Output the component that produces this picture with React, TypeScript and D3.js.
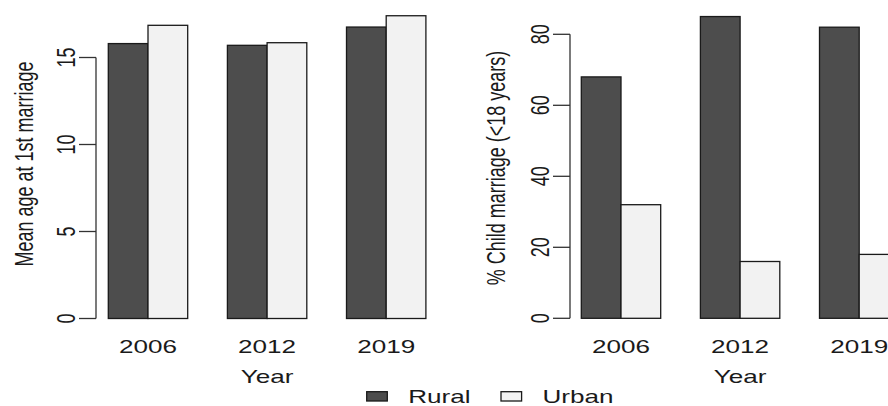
import React, { useEffect, useRef } from 'react';
import * as d3 from 'd3';

// survey years and the two groups
const years = ['2006', '2012', '2019'];
const groups = ['Rural', 'Urban'];

// mean age at 1st marriage
const ruralAge = [15.8, 15.7, 16.75];
const urbanAge = [16.85, 15.85, 17.4];
const ageTicks = [0, 5, 10, 15];

// % child marriage (<18 years)
const ruralChild = [68, 85, 82];
const urbanChild = [32, 16, 18];
const childTicks = [0, 20, 40, 60, 80];

const colors = ['#4d4d4d', '#f2f2f2'];

const FONT = '"Liberation Sans", Arial, sans-serif';
const FS = 18;
const SX = 1.45; // the picture is stretched sideways

const App: React.FC = () => {
  const ref = useRef<SVGSVGElement>(null);

  useEffect(() => {
    if (!ref.current) return;
    const svg = d3.select(ref.current);
    svg.selectAll('*').remove();

    const drawPanel = (
      x0: number,
      axisX: number,
      yMax: number,
      yRange: [number, number],
      ticks: number[],
      series: number[][],
      title: string,
      titleX: number,
      titleY: number,
    ) => {
      // R barplot units: bars from 1 to 9, one bar gap between groups
      const x = d3.scaleLinear().domain([1, 2]).range([x0, x0 + 39.7]);
      const y = d3.scaleLinear().domain([0, yMax]).range(yRange);
      const g = svg.append('g');

      years.forEach((yr, i) => {
        series.forEach((vals, j) => {
          const u = 1 + i * 3 + j;
          g.append('rect')
            .attr('x', x(u))
            .attr('y', y(vals[i]))
            .attr('width', x(u + 1) - x(u))
            .attr('height', y(0) - y(vals[i]))
            .attr('fill', colors[j])
            .attr('stroke', '#1a1a1a')
            .attr('stroke-width', 1.3);
        });
        g.append('text')
          .attr('transform', `translate(${x(2 + i * 3)},353) scale(${SX},1)`)
          .attr('text-anchor', 'middle')
          .attr('font-size', FS)
          .attr('font-family', FONT)
          .attr('fill', '#1a1a1a')
          .text(yr);
      });

      // y axis
      g.append('line')
        .attr('x1', axisX)
        .attr('x2', axisX)
        .attr('y1', y(ticks[0]))
        .attr('y2', y(ticks[ticks.length - 1]))
        .attr('stroke', '#333')
        .attr('stroke-width', 1.3);
      ticks.forEach((t) => {
        g.append('line')
          .attr('x1', axisX - 17)
          .attr('x2', axisX)
          .attr('y1', y(t))
          .attr('y2', y(t))
          .attr('stroke', '#333')
          .attr('stroke-width', 1.3);
        g.append('text')
          .attr('transform', `translate(${axisX - 21},${y(t)}) scale(${SX},1) rotate(-90)`)
          .attr('text-anchor', 'middle')
          .attr('font-size', FS)
          .attr('font-family', FONT)
          .attr('fill', '#1a1a1a')
          .text(t);
      });

      g.append('text')
        .attr('transform', `translate(${titleX},${titleY}) scale(${SX},1) rotate(-90)`)
        .attr('text-anchor', 'middle')
        .attr('font-size', FS)
        .attr('font-family', FONT)
        .attr('fill', '#1a1a1a')
        .text(title);

      g.append('text')
        .attr('transform', `translate(${x(5)},383) scale(${SX},1)`)
        .attr('text-anchor', 'middle')
        .attr('font-size', FS)
        .attr('font-family', FONT)
        .attr('fill', '#1a1a1a')
        .text('Year');
    };

    drawPanel(108.3, 96, 15, [318.5, 57.5], ageTicks, [ruralAge, urbanAge],
      'Mean age at 1st marriage', 33, 164);
    drawPanel(581.3, 570, 80, [318.3, 34.3], childTicks, [ruralChild, urbanChild],
      '% Child marriage (<18 years)', 505, 168);

    // legend
    const legend = svg.append('g');
    const lx = [366.7, 501];
    groups.forEach((name, i) => {
      legend.append('rect')
        .attr('x', lx[i])
        .attr('y', 391.7)
        .attr('width', 20.6)
        .attr('height', 9.3)
        .attr('fill', colors[i])
        .attr('stroke', '#1a1a1a')
        .attr('stroke-width', 1.3);
      legend.append('text')
        .attr('transform', `translate(${lx[i] + 41.5},403.3) scale(${SX},1)`)
        .attr('font-size', FS)
        .attr('font-family', FONT)
        .attr('fill', '#1a1a1a')
        .text(name);
    });
  }, []);

  return (
    <svg
      ref={ref}
      width={888}
      height={406}
      style={{ position: 'absolute', left: 0, top: 0, background: '#fff' }}
    />
  );
};

export default App;
